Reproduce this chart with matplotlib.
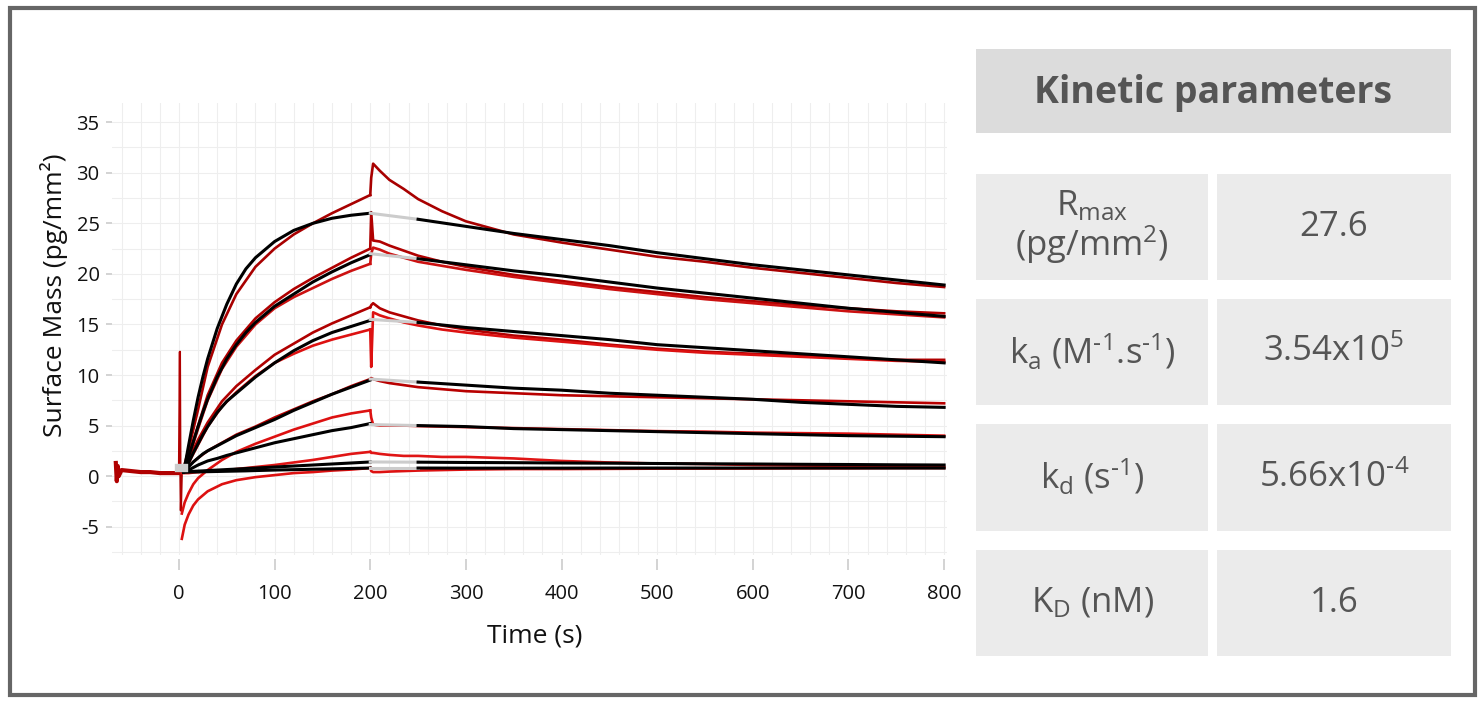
import matplotlib
matplotlib.use('Agg')
import matplotlib.pyplot as plt
from matplotlib.patches import Rectangle

plt.rcParams['font.family'] = ['Open Sans', 'DejaVu Sans']
plt.rcParams['mathtext.fontset'] = 'custom'
plt.rcParams['mathtext.rm'] = 'Open Sans'
plt.rcParams['mathtext.it'] = 'Open Sans'
plt.rcParams['mathtext.bf'] = 'Open Sans:bold'
plt.rcParams['axes.unicode_minus'] = False

W, H = 1483, 703

# ---- fitted curves (black), association phase
t_fit_on = [5, 10, 15, 20, 25, 30, 40, 50, 60, 70, 80, 100, 120, 140, 160, 180, 200]
fit_on = [
    [0.4, 3.0, 5.5, 7.8, 9.8, 11.6, 14.6, 17.0, 19.0, 20.5, 21.6, 23.2, 24.3, 25.0, 25.5, 25.8, 26.0],
    [0.4, 1.9, 3.4, 4.9, 6.3, 7.6, 9.8, 11.6, 13.0, 14.2, 15.2, 16.8, 18.0, 19.2, 20.2, 21.1, 21.9],
    [0.4, 1.3, 2.3, 3.2, 4.1, 4.9, 6.3, 7.4, 8.2, 9.0, 9.8, 11.2, 12.4, 13.4, 14.2, 14.8, 15.4],
    [0.4, 0.9, 1.4, 1.8, 2.2, 2.5, 3.0, 3.5, 4.0, 4.4, 4.8, 5.6, 6.5, 7.3, 8.1, 8.8, 9.5],
    [0.4, 0.6, 0.85, 1.1, 1.3, 1.5, 1.75, 2.05, 2.3, 2.55, 2.8, 3.3, 3.7, 4.1, 4.5, 4.8, 5.2],
    [0.4, 0.45, 0.47, 0.5, 0.52, 0.55, 0.6, 0.65, 0.7, 0.75, 0.8, 0.9, 1.0, 1.1, 1.2, 1.3, 1.4],
    [0.4, 0.4, 0.41, 0.42, 0.43, 0.44, 0.46, 0.48, 0.5, 0.52, 0.55, 0.6, 0.64, 0.68, 0.72, 0.76, 0.8],
]

# ---- fitted curves (black), dissociation phase (200-250 s shown in grey)
t_fit_off = [200, 250, 300, 350, 400, 450, 500, 550, 600, 650, 700, 750, 800]
fit_off = [
    [26.0, 25.4, 24.7, 24.0, 23.4, 22.8, 22.1, 21.5, 20.9, 20.4, 19.9, 19.4, 18.9],
    [22.0, 21.5, 20.9, 20.3, 19.8, 19.2, 18.6, 18.1, 17.6, 17.1, 16.6, 16.2, 15.8],
    [15.5, 15.2, 14.7, 14.3, 13.9, 13.5, 13.0, 12.7, 12.4, 12.1, 11.8, 11.5, 11.2],
    [9.6, 9.3, 9.0, 8.7, 8.5, 8.2, 8.0, 7.8, 7.6, 7.3, 7.1, 6.9, 6.8],
    [5.1, 5.0, 4.9, 4.7, 4.6, 4.5, 4.4, 4.3, 4.2, 4.1, 4.0, 3.95, 3.9],
    [1.4, 1.38, 1.35, 1.33, 1.3, 1.28, 1.25, 1.22, 1.2, 1.17, 1.15, 1.12, 1.1],
    [0.8, 0.8, 0.79, 0.79, 0.79, 0.8, 0.8, 0.8, 0.8, 0.8, 0.8, 0.8, 0.8],
]

# ---- measured curves (red)
t_base = [-66, -65, -64, -63, -60, -50, -40, -30, -20, -10, 0]
base = [1.3, -0.5, 1.0, 0.0, 0.6, 0.5, 0.4, 0.4, 0.3, 0.3, 0.3]

t_spike = [0, 1, 1.5, 2, 3]
spike = [0.3, 12.3, 0.5, -3.4, 0.4]

t_on = [3, 6, 10, 15, 20, 30, 45, 60, 80, 100, 120, 140, 160, 180, 200]
data_on = [
    [0.5, 1.2, 2.6, 4.6, 6.6, 10.8, 15.0, 18.0, 20.7, 22.5, 23.9, 25.0, 26.0, 26.9, 27.8],
    [0.5, 1.0, 2.0, 3.5, 5.0, 8.0, 11.2, 13.4, 15.6, 17.2, 18.5, 19.6, 20.6, 21.6, 22.5],
    [0.5, 0.9, 1.8, 3.2, 4.7, 7.5, 10.6, 12.8, 15.0, 16.6, 17.7, 18.6, 19.5, 20.3, 21.0],
    [0.5, 0.8, 1.5, 2.6, 3.6, 5.3, 7.4, 8.9, 10.5, 12.0, 13.1, 14.2, 15.1, 15.9, 16.7],
    [0.5, 0.7, 1.3, 2.2, 3.1, 4.9, 6.9, 8.3, 9.9, 11.2, 12.1, 12.9, 13.5, 14.0, 14.5],
    [0.5, 0.6, 1.0, 1.4, 1.8, 2.5, 3.3, 4.1, 4.9, 5.8, 6.6, 7.4, 8.1, 8.9, 9.6],
    [-3.7, -2.6, -1.7, -0.8, -0.2, 0.6, 1.6, 2.4, 3.2, 3.9, 4.6, 5.2, 5.8, 6.2, 6.5],
    [0.3, 0.3, 0.3, 0.35, 0.4, 0.45, 0.55, 0.7, 0.9, 1.1, 1.35, 1.6, 1.9, 2.2, 2.4],
    [-6.2, -4.8, -3.8, -2.9, -2.3, -1.5, -0.8, -0.4, -0.1, 0.1, 0.3, 0.4, 0.55, 0.65, 0.8],
]

t_off = [200, 201, 203, 210, 220, 235, 250, 275, 300, 350, 400, 450, 500, 550, 600, 650, 700, 750, 800]
data_off = [
    [27.8, 29.5, 30.9, 30.2, 29.3, 28.4, 27.4, 26.2, 25.2, 23.9, 23.1, 22.4, 21.7, 21.2, 20.6, 20.1, 19.6, 19.1, 18.7],
    [22.5, 26.1, 23.3, 23.2, 22.8, 22.3, 21.8, 21.2, 20.7, 19.9, 19.3, 18.7, 18.2, 17.7, 17.3, 16.9, 16.6, 16.3, 16.1],
    [21.0, 22.0, 22.6, 22.4, 22.0, 21.6, 21.2, 20.8, 20.4, 19.7, 19.1, 18.5, 18.0, 17.5, 17.1, 16.7, 16.3, 16.0, 15.7],
    [16.7, 16.9, 17.1, 16.6, 16.2, 15.8, 15.4, 14.9, 14.5, 13.9, 13.5, 13.0, 12.6, 12.3, 12.1, 11.9, 11.7, 11.5, 11.5],
    [14.5, 10.8, 16.2, 15.9, 15.6, 15.2, 14.9, 14.5, 14.2, 13.7, 13.3, 12.9, 12.5, 12.2, 12.0, 11.8, 11.6, 11.4, 11.3],
    [9.6, 9.7, 9.6, 9.4, 9.2, 9.0, 8.8, 8.6, 8.4, 8.2, 8.0, 7.9, 7.8, 7.7, 7.6, 7.5, 7.4, 7.3, 7.2],
    [6.5, 5.8, 5.1, 5.0, 5.0, 5.0, 4.95, 4.9, 4.85, 4.75, 4.65, 4.55, 4.45, 4.4, 4.3, 4.25, 4.2, 4.1, 4.0],
    [2.4, 2.3, 2.3, 2.2, 2.1, 2.0, 2.0, 1.9, 1.9, 1.75, 1.5, 1.35, 1.25, 1.2, 1.1, 1.05, 1.0, 0.95, 0.9],
    [0.8, 0.5, 0.4, 0.4, 0.45, 0.5, 0.55, 0.6, 0.65, 0.7, 0.7, 0.72, 0.74, 0.75, 0.76, 0.78, 0.78, 0.8, 0.8],
]
red_colors = ['#a80000', '#b00000', '#cc1111', '#b00000', '#dd1111', '#b80000', '#dd1111', '#e01515', '#dd1111']

# ---- table
HY = '\u2010'  # short hyphen used in the superscripts
header = 'Kinetic parameters'
param_names = [r'R$_{\mathregular{max}}$' + '\n' + r'(pg/mm$^{\mathregular{2}}$)',
               r'k$_{\mathregular{a}}$ (M$^{\mathregular{' + HY + r'1}}$.s$^{\mathregular{' + HY + r'1}}$)',
               r'k$_{\mathregular{d}}$ (s$^{\mathregular{' + HY + r'1}}$)',
               r'K$_{\mathregular{D}}$ (nM)']
param_values = ['27.6', r'3.54x10$^{\mathregular{5}}$', r'5.66x10$^{\mathregular{' + HY + r'4}}$', '1.6']


def fig_box(x0, y0, x1, y1):
    return (x0 / W, 1 - y1 / H, (x1 - x0) / W, (y1 - y0) / H)


fig = plt.figure(figsize=(W / 100, H / 100), dpi=100)
fig.patch.set_facecolor('white')

ax = fig.add_axes(fig_box(112, 103, 947, 555))
ax.set_xlim(-70, 803)
ax.set_ylim(-7.8, 36.9)

ax.plot(t_base, base, color='#b00000', lw=3.0, zorder=2)
ax.plot(t_spike, spike, color='#b00000', lw=1.6, zorder=2)

for y_, c in zip(data_on, red_colors):
    ax.plot(t_on, y_, color=c, lw=1.9, zorder=2)
for y_, c in zip(data_off, red_colors):
    ax.plot(t_off, y_, color=c, lw=1.9, zorder=2)

for y_ in fit_on:
    ax.plot(t_fit_on, y_, color='black', lw=2.2, zorder=3)
for y_ in fit_off:
    ax.plot(t_fit_off[:2], y_[:2], color='#cccccc', lw=2.2, zorder=3)
    ax.plot(t_fit_off[1:], y_[1:], color='black', lw=2.2, zorder=3)
ax.plot([0, 5], [0.8, 0.8], color='#cccccc', lw=6, zorder=3)

ax.set_xticks(range(0, 801, 100))
ax.set_yticks(range(-5, 36, 5))
ax.set_xticks(range(-60, 801, 20), minor=True)
ax.set_yticks([v * 2.5 for v in range(-3, 15)], minor=True)
ax.grid(which='both', color='#eeeeee', lw=0.8, zorder=0)
ax.set_axisbelow(True)
for s in ax.spines.values():
    s.set_visible(False)
ax.spines['bottom'].set_position(('outward', 3))
ax.tick_params(which='minor', length=0)
ax.tick_params(axis='x', which='major', length=8, width=1.2, color='#cccccc',
               labelsize=14.5, pad=10, labelcolor='#111111')
ax.tick_params(axis='y', which='major', length=4, width=1.2, color='#cccccc',
               labelsize=14.5, pad=5, labelcolor='#111111')

fig.text(535 / W, 1 - 636 / H, 'Time (s)', ha='center', va='center',
         fontsize=19, color='#111111')
fig.text(54 / W, 1 - 295 / H, 'Surface Mass (pg/mm²)', ha='center', va='center',
         rotation=90, fontsize=19, color='#111111')

# outer frame
fb = fig_box(10, 8, 1475, 695)
fig.patches.append(Rectangle(fb[:2], fb[2], fb[3], transform=fig.transFigure,
                             fill=False, edgecolor='#666666', lw=3))

# parameter table
hb = fig_box(976, 49, 1451, 133)
fig.patches.append(Rectangle(hb[:2], hb[2], hb[3], transform=fig.transFigure,
                             facecolor='#dcdcdc', edgecolor='none'))
fig.text((976 + 1451) / 2 / W, 1 - 93 / H, header, ha='center', va='center',
         fontsize=27, fontweight='bold', color='#555555')

rows = [(174, 280), (299, 405), (424, 531), (550, 656)]
for (y0, y1), name, val in zip(rows, param_names, param_values):
    for (x0, x1), txt in zip([(976, 1208), (1217, 1451)], [name, val]):
        b = fig_box(x0, y0, x1, y1)
        fig.patches.append(Rectangle(b[:2], b[2], b[3], transform=fig.transFigure,
                                     facecolor='#ebebeb', edgecolor='none'))
        fig.text((x0 + x1) / 2 / W, 1 - (y0 + y1) / 2 / H, txt, ha='center',
                 va='center', fontsize=25, color='#555555', linespacing=1.0)

plt.savefig('out.png', dpi=100)
